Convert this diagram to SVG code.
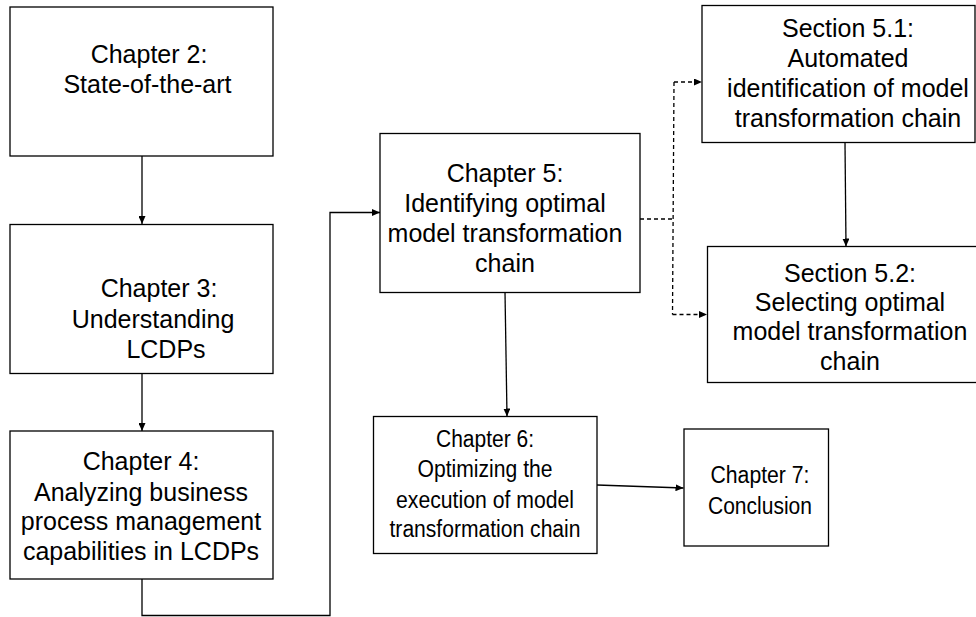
<svg xmlns="http://www.w3.org/2000/svg" width="976" height="617" viewBox="0 0 976 617">
<style>
.box{fill:#fff;stroke:#000;stroke-width:1.3}
.t{font-family:"Liberation Sans",Arial,sans-serif;font-size:25px;fill:#000;text-anchor:middle}
.s{font-size:23px}
.c{fill:none;stroke:#000;stroke-width:1.3}
.d{stroke-dasharray:4 3}
</style>
<defs>
<marker id="ah" markerWidth="8" markerHeight="7" refX="8" refY="3.5" orient="auto" markerUnits="userSpaceOnUse">
<path d="M0,0 L8,3.5 L0,7 Z" fill="#000"/>
</marker>
</defs>
<rect width="976" height="617" fill="#fff"/>
<g id="connectors">
<path class="c" d="M142,156 L142,224" marker-end="url(#ah)"/>
<path class="c" d="M142,373 L142,431" marker-end="url(#ah)"/>
<path class="c" d="M142,579 L142,615.5 L330,615.5 L330,212.5 L380,212.5" marker-end="url(#ah)"/>
<path class="c" d="M505,292 L507,416.5" marker-end="url(#ah)"/>
<path class="c" d="M597,485 L683.5,488" marker-end="url(#ah)"/>
<path class="c d" d="M640,219 L673,219"/>
<path class="c d" d="M674,82 L672.5,314.5"/>
<path class="c d" d="M674,82 L702,82" marker-end="url(#ah)"/>
<path class="c d" d="M672.5,314.5 L707,314.5" marker-end="url(#ah)"/>
<path class="c" d="M845,143 L846,246.5" marker-end="url(#ah)"/>
</g>
<g id="ch2">
<rect class="box" x="10" y="7" width="263" height="149"/>
<text class="t" x="149" y="63">Chapter 2:</text>
<text class="t" x="147.5" y="93">State-of-the-art</text>
</g>
<g id="ch3">
<rect class="box" x="10" y="224.5" width="263" height="149"/>
<text class="t" x="159" y="297">Chapter 3:</text>
<text class="t" x="153" y="328">Understanding</text>
<text class="t" x="166" y="358">LCDPs</text>
</g>
<g id="ch4">
<rect class="box" x="10" y="431" width="263" height="148"/>
<text class="t" x="141" y="470">Chapter 4:</text>
<text class="t" x="141" y="501">Analyzing business</text>
<text class="t" x="141" y="530">process management</text>
<text class="t" x="141" y="560">capabilities in LCDPs</text>
</g>
<g id="ch5">
<rect class="box" x="380" y="133.5" width="260" height="159"/>
<text class="t" x="505" y="182">Chapter 5:</text>
<text class="t" x="505" y="212">Identifying optimal</text>
<text class="t" x="505" y="242">model transformation</text>
<text class="t" x="505" y="272">chain</text>
</g>
<g id="s51">
<rect class="box" x="702" y="5.5" width="273" height="137"/>
<text class="t" x="848" y="37">Section 5.1:</text>
<text class="t" x="848" y="67">Automated</text>
<text class="t" x="848" y="97">identification of model</text>
<text class="t" x="848" y="127">transformation chain</text>
</g>
<g id="s52">
<rect class="box" x="707.5" y="246.5" width="280" height="136"/>
<text class="t" x="850" y="281.5">Section 5.2:</text>
<text class="t" x="850" y="311">Selecting optimal</text>
<text class="t" x="850" y="340">model transformation</text>
<text class="t" x="850" y="370">chain</text>
</g>
<g id="ch6">
<rect class="box" x="373.5" y="416.5" width="223.5" height="137"/>
<text class="t s" x="485" y="447" textLength="98" lengthAdjust="spacingAndGlyphs">Chapter 6:</text>
<text class="t s" x="485" y="477" textLength="135" lengthAdjust="spacingAndGlyphs">Optimizing the</text>
<text class="t s" x="485" y="507.5" textLength="178" lengthAdjust="spacingAndGlyphs">execution of model</text>
<text class="t s" x="485" y="537" textLength="191" lengthAdjust="spacingAndGlyphs">transformation chain</text>
</g>
<g id="ch7">
<rect class="box" x="684" y="429" width="144.5" height="117"/>
<text class="t s" x="760" y="483" textLength="99" lengthAdjust="spacingAndGlyphs">Chapter 7:</text>
<text class="t s" x="760" y="514" textLength="104" lengthAdjust="spacingAndGlyphs">Conclusion</text>
</g>
</svg>
